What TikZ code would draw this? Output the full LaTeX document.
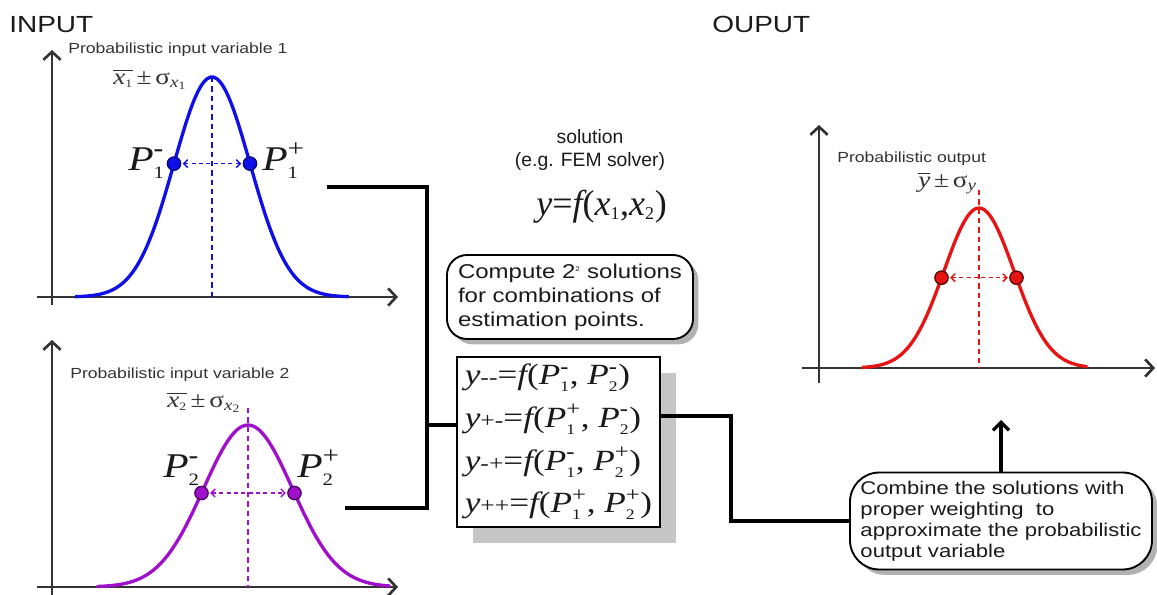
\documentclass[tikz,border=0pt]{standalone}
\usepackage{amsmath}
\usepackage{fontspec}
\setsansfont{Liberation Sans}[FakeStretch=1.2]
\newfontfamily\nsf{Liberation Sans}
\newfontfamily\tms{Liberation Serif}[FakeStretch=1.2]
\newfontfamily\tmn{Liberation Serif}
\usepackage{tikz}
\usetikzlibrary{positioning,arrows.meta,shadows}
\definecolor{ink}{HTML}{1A1A1A}
\definecolor{axisGray}{HTML}{333333}
\definecolor{cBlue}{HTML}{0F0FEA}
\definecolor{cPurple}{HTML}{A010CC}
\definecolor{cRed}{HTML}{E61414}
\definecolor{shade}{HTML}{C6C6C6}
\tikzset{
  axis/.style={draw=axisGray, line width=2pt, -{Straight Barb[length=6pt, width=13pt]}},
  bell/.style={line width=2.5pt},
  centerline/.style={line width=1.3pt, dash pattern=on 4pt off 3pt},
  spread/.style={line width=1.1pt, dash pattern=on 3pt off 2.5pt, {Straight Barb[length=3pt, width=6pt]}-{Straight Barb[length=3pt, width=6pt]}, shorten <=1pt, shorten >=1pt},
  pdot/.style={circle, inner sep=0pt, minimum size=10pt, line width=1pt},
  wire/.style={draw=black, line width=2.4pt},
  varlabel/.style={font=\sffamily\fontsize{11}{12}\selectfont, text=axisGray, inner sep=0pt},
  stat/.style={font=\tms\fontsize{17}{19}\selectfont, text=axisGray, inner sep=0pt},
  plab/.style={font=\tms\fontsize{26}{30}\selectfont, text=ink, inner sep=0pt},
  headline/.style={font=\sffamily\fontsize{17.5}{20}\selectfont, text=ink, inner sep=0pt},
  note/.style={font=\nsf\fontsize{14.5}{17}\selectfont, text=ink, align=center},
  bubble/.style={draw=black, line width=1.4pt, fill=white, align=left, text=ink, drop shadow={shadow xshift=4pt, shadow yshift=-4pt, fill=black, opacity=0.3}},
}
\newcommand{\tv}[1]{\text{\tms\itshape #1}}
\newcommand{\tn}[1]{\text{\tms #1}}
\newcommand{\mn}{{\bfseries -}}
\newcommand{\Pv}[2]{\tv{P}^{\tn{#2}}_{\scriptscriptstyle\tn{#1}}}
\newcommand{\yv}[1]{\tv{y}\hbox{\tms\fontsize{16}{16}\selectfont #1}}
\begin{document}
\begin{tikzpicture}[x=0.75pt, y=-0.75pt]
\useasboundingbox (0,0) rectangle (1157,594);
\draw[axis] (52,305) -- (52,50);
\draw[axis] (37,297) -- (398,297);
\draw[axis] (52,600) -- (52,340);
\draw[axis] (37,587) -- (398,587);
\draw[axis] (819,383) -- (819,125);
\draw[axis] (802,368) -- (1155,368);
\foreach \cx/\by/\sg/\ht/\lo/\hi/\col in {212/297/38/220/-3.6/3.6/cBlue, 248/587/44.5/162/-3.4/3.2/cPurple, 979/368/35/160/-3.35/3.1/cRed}
  \draw[bell, \col] plot[domain=\lo:\hi, samples=90, smooth] ({\cx+\sg*\x},{\by-\ht*exp(-0.5*(\x)*(\x))});
\draw[centerline, cBlue] (212,77) -- (212,297);
\draw[centerline, cPurple] (248,408) -- (248,587);
\draw[centerline, cRed] (979,190) -- (979,368);
\node[pdot, fill=cBlue, draw=cBlue!55!black] (p1m) at (174,163.6) {};
\node[pdot, fill=cBlue, draw=cBlue!55!black] (p1p) at (250,163.6) {};
\node[pdot, fill=cPurple, draw=cPurple!45!black] (p2m) at (201.5,493) {};
\node[pdot, fill=cPurple, draw=cPurple!45!black] (p2p) at (294.5,493) {};
\node[pdot, fill=cRed, draw=cRed!40!black] (ym) at (941.5,277.7) {};
\node[pdot, fill=cRed, draw=cRed!40!black] (yp) at (1016.5,277.7) {};
\draw[spread, cBlue] (p1m) -- (p1p);
\draw[spread, cPurple] (p2m) -- (p2p);
\draw[spread, cRed] (ym) -- (yp);
\node[headline, anchor=base west] (inp) at (9,32) {INPUT};
\node[headline, anchor=base west] (outp) at (712,32) {OUPUT};
\node[varlabel, anchor=base west] (cap1) at (68,53) {Probabilistic input variable 1};
\node[varlabel, anchor=base west] (cap2) at (70,378) {Probabilistic input variable 2};
\node[varlabel, anchor=base west] (cap3) at (837,162) {Probabilistic output};
\node[stat, anchor=base west] (st1) at (113,84) {$\overline{\tv{x}_{\scriptscriptstyle\tn{1}}}\,\tn{±}\,\tn{σ}_{\tv{x}_{\scriptscriptstyle\tn{1}}}$};
\node[stat, anchor=base west] (st2) at (167,407) {$\overline{\tv{x}_{\scriptscriptstyle\tn{2}}}\,\tn{±}\,\tn{σ}_{\tv{x}_{\scriptscriptstyle\tn{2}}}$};
\node[stat, anchor=base west] (st3) at (918,187) {$\overline{\tv{y}}\,\tn{±}\,\tn{σ}_{\tv{y}}$};
\node[plab, anchor=base west] (l1m) at (128,170) {$\Pv{1}{\mn}$};
\node[plab, anchor=base west] (l1p) at (262,170) {$\Pv{1}{+}$};
\node[plab, anchor=base west] (l2m) at (163,477) {$\Pv{2}{\mn}$};
\node[plab, anchor=base west] (l2p) at (297,477) {$\Pv{2}{+}$};
\node[note] (sol) at (590,150) {solution\\(e.g. FEM solver)};
\node[anchor=base west, inner sep=0pt, text=ink, font=\tmn\fontsize{27}{30}\selectfont] (fx) at (536,215) {$\text{\tmn\itshape y}\text{\tmn =}\text{\tmn\itshape f}\text{\tmn (}\text{\tmn\itshape x}_{\scriptscriptstyle\text{\tmn 1}}\text{\tmn ,}\text{\tmn\itshape x}_{\scriptscriptstyle\text{\tmn 2}}\text{\tmn )}$};
\node[bubble, rounded corners=15pt, minimum width=184.5pt, minimum height=63pt, font=\sffamily\fontsize{15}{18}\selectfont] (comp) at (570,297) {Compute 2\textsuperscript{\tiny 2} solutions\\for combinations of\\estimation points.};
\node[draw=black, line width=1.4pt, fill=white, align=left, text=ink, minimum width=152pt, minimum height=127.5pt, inner xsep=5pt, font=\tms\fontsize{22}{32}\selectfont, drop shadow={shadow xshift=12pt, shadow yshift=-12pt, fill=shade, opacity=1}] (sols) at (558.5,442) {%
$\yv{-{}-}\tn{=}\tv{f}\tn{(}\Pv{1}{\mn}\tn{, }\Pv{2}{\mn}\tn{)}$\\
$\yv{+-}\tn{=}\tv{f}\tn{(}\Pv{1}{+}\tn{, }\Pv{2}{\mn}\tn{)}$\\
$\yv{-+}\tn{=}\tv{f}\tn{(}\Pv{1}{\mn}\tn{, }\Pv{2}{+}\tn{)}$\\
$\yv{++}\tn{=}\tv{f}\tn{(}\Pv{1}{+}\tn{, }\Pv{2}{+}\tn{)}$};
\node[bubble, rounded corners=22pt, minimum width=226.5pt, minimum height=72.75pt, font=\sffamily\fontsize{13.8}{15.75}\selectfont] (comb) at (1001,521) {Combine the solutions with\\proper weighting\ \ to\\approximate the probabilistic\\output variable};
\coordinate (t1) at (327,187);
\coordinate (vt) at (427,187);
\coordinate (vb) at (427,508);
\coordinate (b2) at (345,508);
\coordinate (jn) at (427,425);
\coordinate (rj) at (731,416);
\coordinate (up) at (1001,420);
\draw[wire] (t1) -- (vt) -- (vb) -- (b2);
\draw[wire] (jn) -- (jn -| sols.west);
\draw[wire] (sols.east |- rj) -- (rj) |- (comb.west);
\draw[wire, -{Straight Barb[length=6pt, width=12pt]}] (comb.north) -- (up);
\end{tikzpicture}
\end{document}
